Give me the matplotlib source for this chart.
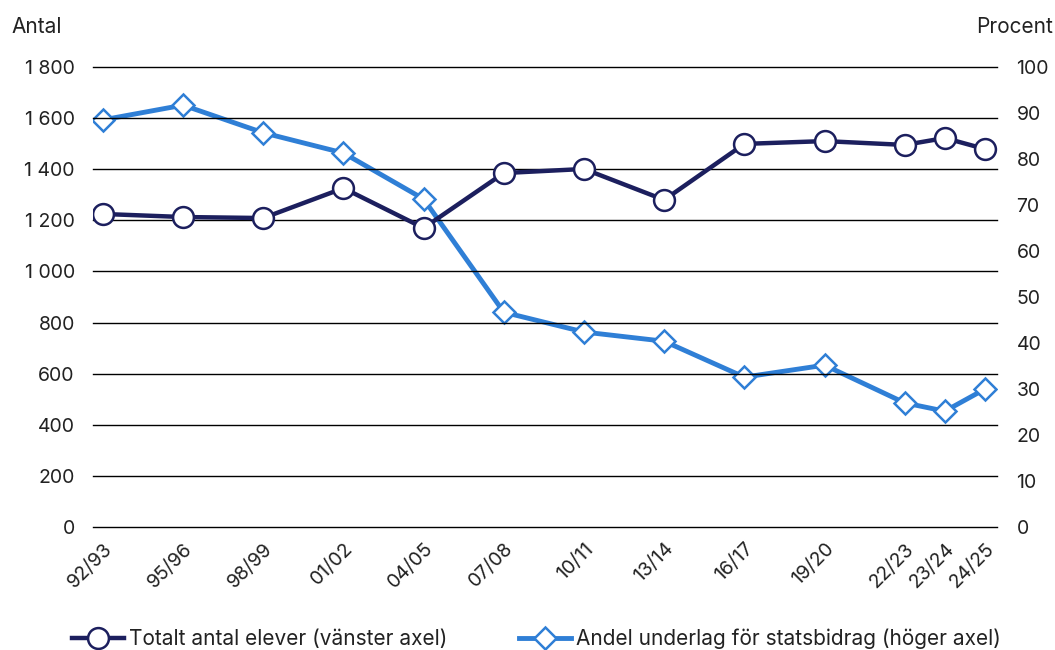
import numpy as np
import matplotlib
matplotlib.use("Agg")
import matplotlib.pyplot as plt
from matplotlib.ticker import FixedLocator, FuncFormatter
from matplotlib.lines import Line2D

plt.rcParams['font.family'] = ['Inter', 'DejaVu Sans']

categories = ["92/93", "95/96", "98/99", "01/02", "04/05", "07/08", "10/11",
              "13/14", "16/17", "19/20", "22/23", "23/24", "24/25"]
start_years = [1992, 1995, 1998, 2001, 2004, 2007, 2010, 2013, 2016, 2019, 2022, 2023, 2024]
elever = [1225, 1213, 1209, 1326, 1170, 1385, 1401, 1280, 1499, 1510, 1495, 1522, 1479]
andel = [88.5, 91.7, 85.7, 81.3, 71.3, 46.7, 42.4, 40.4, 32.6, 35.2, 27.0, 25.2, 30.0]

left_ticks = [0, 200, 400, 600, 800, 1000, 1200, 1400, 1600, 1800]
right_ticks = [0, 10, 20, 30, 40, 50, 60, 70, 80, 90, 100]

navy = "#1c1f5e"
blue = "#2f7fd6"

# category positions: 3-year steps = 1 unit, 1-year steps = 0.5 unit
gaps = [1.0 if d == 3 else 0.5 for d in np.diff(start_years)]
xpos = np.concatenate([[0.0], np.cumsum(gaps)])

fig = plt.figure(figsize=(10.55, 6.5), dpi=100)
ax = fig.add_axes([0.088, 0.189, 0.857, 0.708])
ax2 = ax.twinx()

ax.set_ylim(0, 1800)
ax2.set_ylim(0, 100)
ax.set_xlim(xpos[0] - 0.125, xpos[-1] + 0.15)

ax.yaxis.set_major_locator(FixedLocator(left_ticks))
ax.yaxis.set_major_formatter(FuncFormatter(lambda v, p: f"{int(v):,}".replace(",", " ")))
ax2.yaxis.set_major_locator(FixedLocator(right_ticks))

ax.grid(axis='y', color='black', linewidth=1.0)
ax.set_axisbelow(True)
for gl in ax.get_ygridlines():
    gl.set_clip_on(False)

for a in (ax, ax2):
    for s in a.spines.values():
        s.set_visible(False)
    a.tick_params(length=0, labelsize=14, colors='#222222')
ax.tick_params(axis='y', pad=13)
ax2.tick_params(axis='y', pad=14)

ax.set_xticks(xpos)
ax.set_xticklabels(categories, rotation=45, ha='right', rotation_mode='anchor', fontsize=14)
ax.tick_params(axis='x', pad=9)

ax2.plot(xpos, andel, color=blue, linewidth=3.5, marker='D', markersize=11,
         markerfacecolor='white', markeredgecolor=blue, markeredgewidth=1.8, zorder=3)
ax.plot(xpos, elever, color=navy, linewidth=3.2, marker='o', markersize=15,
        markerfacecolor='white', markeredgecolor=navy, markeredgewidth=1.8, zorder=4)
ax.set_zorder(ax2.get_zorder() + 1)
ax.patch.set_visible(False)

fig.text(0.011, 0.958, "Antal", fontsize=15, color='#222222', va='center', ha='left')
fig.text(0.998, 0.958, "Procent", fontsize=15, color='#222222', va='center', ha='right')

h1 = Line2D([], [], color=navy, linewidth=3.2, marker='o', markersize=15,
            markerfacecolor='white', markeredgecolor=navy, markeredgewidth=1.8)
h2 = Line2D([], [], color=blue, linewidth=3.5, marker='D', markersize=11,
            markerfacecolor='white', markeredgecolor=blue, markeredgewidth=1.8)
fig.legend([h1, h2], ["Totalt antal elever (vänster axel)", "Andel underlag för statsbidrag (höger axel)"],
           loc='center', bbox_to_anchor=(0.5085, 0.017), ncol=2, frameon=False,
           fontsize=15, handlelength=2.5, handletextpad=0.25, columnspacing=3.45,
           labelcolor='#222222')

fig.savefig("out.png", dpi=100)
